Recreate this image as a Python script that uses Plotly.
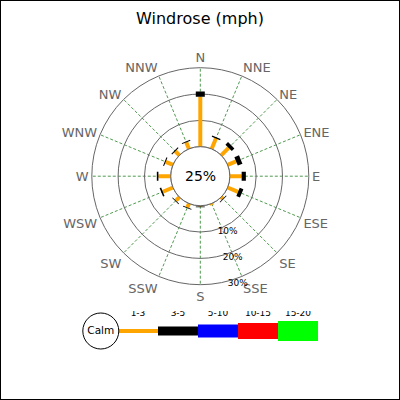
import numpy as np
import plotly.graph_objects as go

# direções e valores (%)
direcoes = ['N', 'NNE', 'NE', 'ENE', 'E', 'ESE', 'SE', 'SSE',
            'S', 'SSW', 'SW', 'WSW', 'W', 'WNW', 'NW', 'NNW']
faixa_1_3 = [19.0, 4.3, 4.0, 3.5, 4.5, 4.3, 0.9, 0.6,
             0.3, 1.6, 1.9, 4.2, 4.7, 3.0, 2.2, 2.7]
faixa_3_5 = [2.0, 0.5, 1.4, 1.9, 1.6, 1.5, 0.3, 0.0,
             0.3, 0.3, 0.3, 0.6, 0.6, 0.4, 0.4, 0.4]
calmo = 25

legenda_faixas = ['1-3', '3-5', '5-10', '10-15', '15-20']
legenda_cores = ['orange', 'black', 'blue', 'red', '#00ff00']
legenda_larguras = [4, 9, 13, 16, 20]

fonte = 'DejaVu Sans'
angulos = np.arange(len(direcoes)) * 22.5
angulo_rotulos = -79  # eixo radial (so os rotulos 10%, 20%, 30%)

fig = go.Figure()

# circulo do calmo (borda do furo)
circ = np.linspace(0, 360, 181)
fig.add_trace(go.Scatterpolar(r=np.zeros(len(circ)), theta=circ, mode='lines',
                              line=dict(color='#666666', width=1),
                              hoverinfo='skip', showlegend=False))

# segmentos das faixas de velocidade
base = np.zeros(len(direcoes))
for valores, cor, larg in zip([faixa_1_3, faixa_3_5], legenda_cores, legenda_larguras):
    r, th = [], []
    for i, v in enumerate(valores):
        if v <= 0:
            continue
        r += [base[i], base[i] + v, None]
        th += [angulos[i], angulos[i], None]
    base = base + np.array(valores)
    fig.add_trace(go.Scatterpolar(r=r, theta=th, mode='lines',
                                  line=dict(color=cor, width=larg),
                                  hoverinfo='skip', showlegend=False))

# legenda embaixo
n = len(legenda_faixas)
for i in range(n):
    fig.add_trace(go.Scatter(x=[i, i + 1], y=[0, 0], mode='lines',
                             line=dict(color=legenda_cores[i], width=legenda_larguras[i]),
                             xaxis='x', yaxis='y', hoverinfo='skip', showlegend=False))
fig.add_trace(go.Scatter(x=np.arange(n) + 0.5, y=[0.85] * n, mode='text',
                         text=legenda_faixas, textposition='middle center',
                         textfont=dict(family=fonte, size=9, color='black'),
                         hoverinfo='skip', showlegend=False))
fig.add_trace(go.Scatter(x=[-0.43], y=[0], mode='markers+text', text=['Calm'],
                         textposition='middle center',
                         textfont=dict(family=fonte, size=10.5, color='black'),
                         marker=dict(size=36, color='white', line=dict(color='black', width=1)),
                         hoverinfo='skip', showlegend=False))

fig.update_layout(
    width=400, height=400,
    margin=dict(l=0, r=0, t=0, b=0),
    paper_bgcolor='white', plot_bgcolor='white',
    title=dict(text='Windrose (mph)', x=0.5, y=0.955, xanchor='center', yanchor='middle',
               font=dict(family=fonte, size=16, color='black')),
    polar=dict(
        domain=dict(x=[0.2295, 0.772], y=[0.288, 0.831]),
        hole=0.272,
        bgcolor='white',
        radialaxis=dict(range=[0, 30], angle=angulo_rotulos, tickangle=angulo_rotulos,
                        side='counterclockwise',
                        tickvals=[10, 20, 30], ticktext=['10%', '20%', '30%'],
                        showline=False, ticks='',
                        gridcolor='#666666', gridwidth=1,
                        tickfont=dict(family=fonte, size=9, color='black')),
        angularaxis=dict(direction='clockwise', rotation=90, tickmode='array',
                         tickvals=angulos, ticktext=direcoes, ticks='',
                         showline=True, linecolor='#666666', linewidth=1,
                         gridcolor='#4f9a4f', griddash='3px,2px', gridwidth=1,
                         tickfont=dict(family=fonte, size=13, color='#666666')),
    ),
    xaxis=dict(domain=[0.2, 0.8], range=[-0.95, 5.05], visible=False),
    yaxis=dict(domain=[0.1225, 0.2225], range=[-1, 1], visible=False),
    annotations=[dict(text=f'{calmo}%', x=0.5, y=0.5, xref='paper', yref='paper',
                      showarrow=False, font=dict(family=fonte, size=14, color='black'))],
    shapes=[dict(type='rect', xref='paper', yref='paper', x0=0, y0=0, x1=1, y1=1,
                 line=dict(color='black', width=2))],
)
# anotacao do calmo no centro do polar
cx = sum(fig.layout.polar.domain.x) / 2
cy = sum(fig.layout.polar.domain.y) / 2
fig.layout.annotations[0].update(x=cx, y=cy)

fig.write_html('out.html', config={'displayModeBar': False},
               post_script="document.body.style.margin='0';")
